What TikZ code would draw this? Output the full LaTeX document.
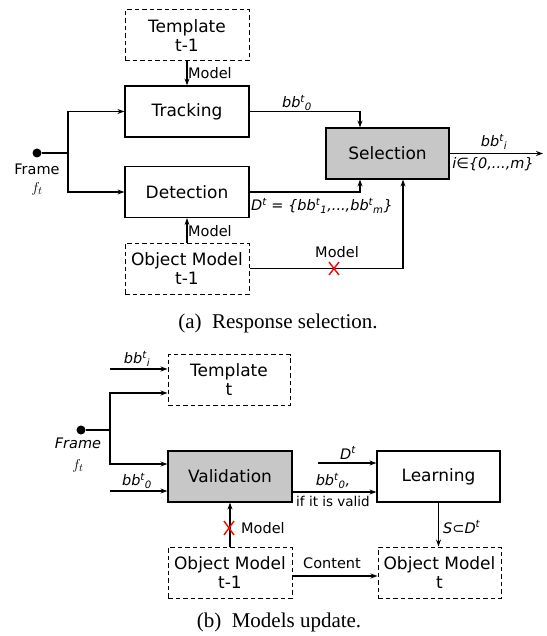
\documentclass[tikz,border=0pt]{standalone}
\usepackage{fontspec}
\setmainfont{DejaVu Sans}
\newfontfamily\capfont{Liberation Serif}
\usetikzlibrary{arrows.meta,calc}
\newcommand{\bbsup}[1]{bb\textsuperscript{t}\textsubscript{#1}}
\begin{document}
\begin{tikzpicture}[x=1pt,y=-1pt,
 box/.style={draw, line width=1.2pt, minimum width=124pt, minimum height=51pt, inner sep=0pt, font=\fontsize{17}{19}\selectfont, align=center},
 dbox/.style={box, line width=1pt, dash pattern=on 4.5pt off 3pt},
 gbox/.style={box, fill=black!22},
 line/.style={line width=1.1pt},
 conn/.style={line width=1.1pt, -{Stealth[length=7pt,width=5pt]}},
 lbl/.style={font=\fontsize{14.5}{17}\selectfont, inner sep=1pt},
 ilbl/.style={font=\fontsize{14.5}{17}\selectfont\itshape, inner sep=1pt},
 slbl/.style={font=\fontsize{13.5}{16}\selectfont, inner sep=1pt},
 dot/.style={circle, fill=black, minimum size=9pt, inner sep=0pt},
 cross/.style={red, line width=1.4pt},
 captxt/.style={font=\capfont\fontsize{21}{23}\selectfont}]
\useasboundingbox (0,0) rectangle (546,636);

% ---------- (a) ----------
\node[dbox] (tmpl1) at (187,35.5) {Template\\t-1};
\node[box] (track) at (187,111.5) {Tracking};
\node[box] (detect) at (187,192) {Detection};
\node[dbox] (objm1) at (187,268.5) {Object Model\\t-1};
\node[gbox, minimum width=123pt] (sel) at (387.5,153.5) {Selection};
\node[dot] (fa) at (37,153) {};
\node[font=\fontsize{14.5}{17}\selectfont] (fal) at (37,169) {Frame};
\node[font=\fontsize{15}{15}\selectfont] (fat) at (37,189) {$f_t$};
\coordinate (ja) at (68,153);
\coordinate (outa) at (543,153.5);

\draw[line] (fa) -- (ja);
\draw[conn] (ja) |- (track.west);
\draw[conn] (ja) |- (detect.west);
\draw[conn] (tmpl1) -- (track);
\node[lbl, anchor=west] at (187,73) {Model};
\draw[conn] (track.east) -| ($(sel.north)+(-27.5,0)$);
\node[ilbl] at (297,103) {\bbsup{0}};
\draw[conn] (detect.east) -| ($(sel.south)+(-27.5,0)$);
\node[ilbl, anchor=west] at (250,206) {D\textsuperscript{t} = \{\bbsup{1},...,bb\textsuperscript{t}\textsubscript{m}\}};
\draw[conn] (objm1) -| ($(sel.south)+(15.5,0)$);
\draw[conn] (objm1.north) -- (detect.south);
\node[lbl, anchor=west] at (187,231) {Model};
\node[lbl] at (337,252) {Model};
\draw[cross] (329,262) -- (339,275) (339,262) -- (329,275);
\draw[conn] (sel.east) -- (outa);
\node[ilbl] at (494,142) {bb\textsuperscript{t}\textsubscript{i}};
\node[ilbl] at (493,164) {i∈\{0,...,m\}};
\node[captxt] (capa) at (278,323) {(a)\ \ Response selection.};

% ---------- (b) ----------
\node[dbox, minimum width=122pt] (tmplt) at (229,380) {Template\\t};
\node[gbox] (valid) at (230,476.5) {Validation};
\node[box, minimum width=123pt] (learn) at (438.5,476.5) {Learning};
\node[dbox] (objm1b) at (230,572.5) {Object Model\\t-1};
\node[dbox, minimum width=123pt] (objmt) at (439.5,572.5) {Object Model\\t};
\node[dot] (fb) at (81,430) {};
\node[ilbl] (fbl) at (78,443) {Frame};
\node[font=\fontsize{15}{15}\selectfont] (fbt) at (78,466) {$f_t$};
\coordinate (jb) at (110,430);
\coordinate (bi) at (110,369);
\coordinate (bo) at (110,491);
\coordinate (dt) at (318,463);

\draw[line] (fb) -- (jb);
\draw[conn] (jb) |- ($(tmplt.west)+(0,13)$);
\draw[conn] (jb) |- ($(valid.west)+(0,-12.5)$);
\draw[conn] (bi) -- (bi -| tmplt.west);
\node[ilbl] at (137,359) {\bbsup{i}};
\draw[conn] (bo) -- (bo -| valid.west);
\node[ilbl] at (137,481) {\bbsup{0}};
\draw[conn] (dt) -- (dt -| learn.west);
\node[ilbl] at (348,453) {D\textsuperscript{t}};
\draw[conn] ($(valid.east)+(0,15.5)$) -- ($(learn.west)+(0,15.5)$);
\node[ilbl] at (333,481) {\bbsup{0},};
\node[slbl] at (333,501) {if it is valid};
\draw[conn] (learn.south) -- (learn.south |- objmt.north);
\node[ilbl, anchor=west] at (442,527) {S⊂D\textsuperscript{t}};
\draw[conn] (objm1b.north) -- (valid.south);
\draw[cross] (224,521) -- (234,535) (234,521) -- (224,535);
\node[lbl, anchor=west] at (240,528) {Model};
\draw[conn] ($(objm1b.east)+(0,3.5)$) -- ($(objmt.west)+(0,3.5)$);
\node[lbl] at (332,563) {Content};
\node[captxt] (capb) at (279,622) {(b)\ \ Models update.};
\end{tikzpicture}
\end{document}
